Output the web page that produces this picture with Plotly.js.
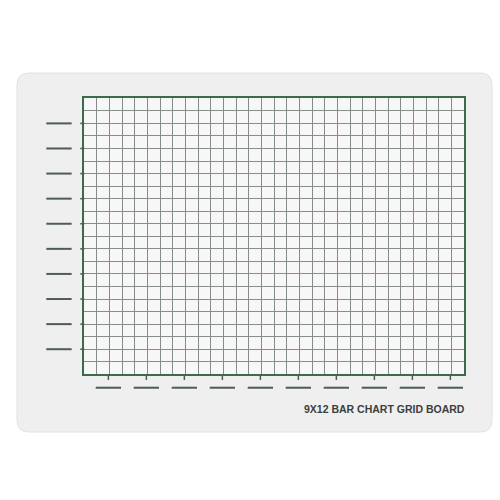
<!DOCTYPE html>
<html>
<head>
<meta charset="utf-8">
<script src="https://cdn.plot.ly/plotly-3.0.1.min.js"></script>
<style>
  html, body { margin: 0; padding: 0; background: #ffffff; }
  #chart { width: 500px; height: 500px; }
</style>
</head>
<body>
<div id="chart"></div>
<script>
// board layout: 30 columns x 22 rows of squares
var gridCols = 30;
var gridRows = 22;
// value marks on the left side (every second row)
var yTicks = [2, 4, 6, 8, 10, 12, 14, 16, 18, 20];
// category marks under the grid (every third column)
var xTicks = [2, 5, 8, 11, 14, 17, 20, 23, 26, 29];
var boardTitle = '9X12 BAR CHART GRID BOARD';

var W = 500, H = 500;
// grid frame in pixels
var gx0 = 84.3, gx1 = 464.3, gyTop = 98.3, gyBot = 374.3;
var ux = (gx1 - gx0) / gridCols;
var uy = (gyBot - gyTop) / gridRows;

var ink = '#4f5c54';
var gridInk = '#858e88';
var frame = '#3d6a4b';

// segments on the overlay axes (same units as the grid)
function segs(list, fn) {
  var xs = [], ys = [];
  list.forEach(function (v) {
    var s = fn(v);
    xs.push(s[0], s[1], null);
    ys.push(s[2], s[3], null);
  });
  return { x: xs, y: ys };
}

var yDashSeg = segs(yTicks, function (v) { return [-3.0, -1.0, v, v]; });
var yStubSeg = segs(yTicks, function (v) { return [-0.32, 0, v, v]; });
var xDashSeg = segs(xTicks, function (v) { return [v - 1.1, v + 0.9, -1.07, -1.07]; });
var xStubSeg = segs(xTicks, function (v) { return [v - 0.1, v - 0.1, 0, -0.45]; });

function lineTrace(s, w) {
  return {
    x: s.x, y: s.y, xaxis: 'x2', yaxis: 'y2',
    mode: 'lines', type: 'scatter', hoverinfo: 'skip', connectgaps: false,
    line: { color: ink, width: w }
  };
}

// empty bar columns so the grid subplot is drawn
var gridTrace = {
  x: xTicks, y: xTicks.map(function () { return 0; }),
  type: 'bar', marker: { color: 'rgba(0,0,0,0)' }, hoverinfo: 'skip'
};

var traces = [
  gridTrace,
  lineTrace(yDashSeg, 2),
  lineTrace(yStubSeg, 1.5),
  lineTrace(xDashSeg, 2),
  lineTrace(xStubSeg, 1.5)
];

// rounded board outline in paper units
function roundRect(x0, y0, x1, y1, rx, ry) {
  return 'M' + (x0 + rx) + ',' + y1 +
    ' L' + (x1 - rx) + ',' + y1 + ' Q' + x1 + ',' + y1 + ' ' + x1 + ',' + (y1 - ry) +
    ' L' + x1 + ',' + (y0 + ry) + ' Q' + x1 + ',' + y0 + ' ' + (x1 - rx) + ',' + y0 +
    ' L' + (x0 + rx) + ',' + y0 + ' Q' + x0 + ',' + y0 + ' ' + x0 + ',' + (y0 + ry) +
    ' L' + x0 + ',' + (y1 - ry) + ' Q' + x0 + ',' + y1 + ' ' + (x0 + rx) + ',' + y1 + ' Z';
}

var px = function (p) { return p / W; };
var py = function (p) { return 1 - p / H; };

var hidden = {
  showgrid: false, zeroline: false, showticklabels: false, ticks: '', showline: false, fixedrange: true
};

var layout = {
  width: W, height: H,
  margin: { l: 0, r: 0, t: 0, b: 0 },
  paper_bgcolor: '#ffffff',
  plot_bgcolor: 'rgba(0,0,0,0)',
  showlegend: false,
  xaxis: {
    domain: [px(gx0), px(gx1)], range: [0, gridCols],
    tickmode: 'linear', dtick: 1, tick0: 0,
    showgrid: true, gridcolor: gridInk, gridwidth: 1,
    zeroline: false, showticklabels: false, ticks: '',
    showline: true, linecolor: frame, linewidth: 2, mirror: true, fixedrange: true
  },
  yaxis: {
    domain: [py(gyBot), py(gyTop)], range: [0, gridRows],
    tickmode: 'linear', dtick: 1, tick0: 0,
    showgrid: true, gridcolor: gridInk, gridwidth: 1,
    zeroline: false, showticklabels: false, ticks: '',
    showline: true, linecolor: frame, linewidth: 2, mirror: true, fixedrange: true
  },
  // overlay axes over the whole board, same scale as the grid
  xaxis2: Object.assign({ domain: [0, 1], anchor: 'y2', range: [-gx0 / ux, (W - gx0) / ux] }, hidden),
  yaxis2: Object.assign({ domain: [0, 1], anchor: 'x2', range: [-(H - gyBot) / uy, gyBot / uy] }, hidden),
  shapes: [
    {
      type: 'path', xref: 'paper', yref: 'paper', layer: 'below',
      path: roundRect(px(17), py(432), px(492), py(73), 0.024, 0.024),
      fillcolor: '#efefef', line: { color: '#e2e2e2', width: 1 }
    },
    {
      type: 'rect', xref: 'paper', yref: 'paper', layer: 'below',
      x0: px(gx0), x1: px(gx1), y0: py(gyBot), y1: py(gyTop),
      fillcolor: '#f6f7f6', line: { width: 0 }
    }
  ],
  annotations: [{
    text: boardTitle, xref: 'paper', yref: 'paper',
    x: px(467), y: py(409), xanchor: 'right', yanchor: 'middle',
    showarrow: false,
    font: { family: 'Liberation Sans, Arial, sans-serif', size: 10.5, weight: 'bold', color: '#3b403d' }
  }]
};

Plotly.newPlot('chart', traces, layout, { displayModeBar: false, staticPlot: true });
</script>
</body>
</html>
